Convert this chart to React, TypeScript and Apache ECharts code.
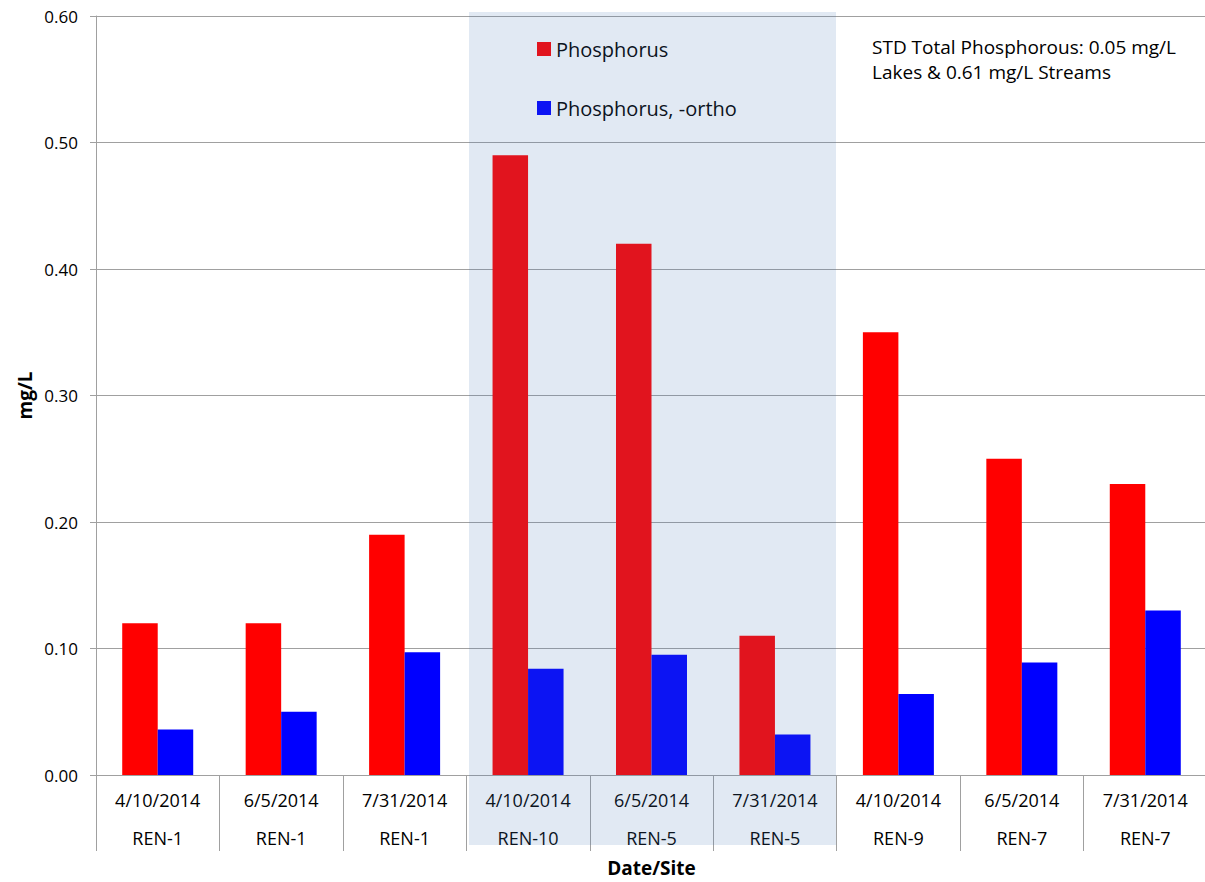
import React, { useEffect, useRef } from "react";
import * as echarts from "echarts";

const dates = ["4/10/2014", "6/5/2014", "7/31/2014", "4/10/2014", "6/5/2014", "7/31/2014", "4/10/2014", "6/5/2014", "7/31/2014"];
const sites = ["REN-1", "REN-1", "REN-1", "REN-10", "REN-5", "REN-5", "REN-9", "REN-7", "REN-7"];
const phosphorus = [0.12, 0.12, 0.19, 0.49, 0.42, 0.11, 0.35, 0.25, 0.23];
const orthoPhosphorus = [0.036, 0.05, 0.097, 0.084, 0.095, 0.032, 0.064, 0.089, 0.13];
const seriesNames = ["Phosphorus", "Phosphorus, -ortho"];
const noteLines = ["STD Total Phosphorous: 0.05 mg/L", "Lakes & 0.61 mg/L Streams"];

const FONT = "'Open Sans', sans-serif";
const GRID = "#a0a0a0";

export default function App() {
  const ref = useRef<HTMLDivElement>(null);
  useEffect(() => {
    if (!ref.current) return;
    const chart = echarts.init(ref.current, null, { renderer: "svg" });
    const categories = dates.map((d, i) => d + "\n" + sites[i]);
    chart.setOption({
      animation: false,
      backgroundColor: "#ffffff",
      textStyle: { fontFamily: FONT },
      grid: { left: 96, right: 3, top: 16, bottom: 107, containLabel: false, outerBoundsMode: "none" },
      legend: {
        orient: "vertical",
        left: 537,
        top: 39,
        padding: 0,
        itemWidth: 14,
        itemHeight: 14,
        itemGap: 39,
        icon: "rect",
        data: seriesNames,
        textStyle: { fontFamily: FONT, fontSize: 20, color: "#000", padding: [0, 0, 0, 0] },
      },
      xAxis: {
        type: "category",
        data: categories,
        name: "Date/Site",
        nameLocation: "middle",
        nameMoveOverlap: false,
        nameGap: 83,
        nameTextStyle: { fontFamily: FONT, fontSize: 19, lineHeight: 19, fontWeight: "bold", color: "#000" },
        axisLine: { lineStyle: { color: GRID, width: 1 } },
        axisTick: { show: true, interval: 0, length: 76, lineStyle: { color: GRID } },
        axisLabel: {
          interval: 0,
          margin: 6,
          lineHeight: 38,
          fontFamily: FONT,
          fontSize: 18,
          color: "#000",
        },
      },
      yAxis: {
        type: "value",
        min: 0,
        max: 0.6,
        interval: 0.1,
        name: "mg/L",
        nameLocation: "middle",
        nameMoveOverlap: false,
        nameRotate: 90,
        nameGap: 62,
        nameTextStyle: { fontFamily: FONT, fontSize: 19, fontWeight: "bold", color: "#000" },
        axisLine: { show: true, lineStyle: { color: GRID, width: 1 } },
        axisTick: { show: true, length: 6, lineStyle: { color: GRID } },
        splitLine: { show: true, lineStyle: { color: GRID, width: 1 } },
        axisLabel: {
          margin: 18,
          fontFamily: FONT,
          fontSize: 17,
          color: "#000",
          formatter: (v: number) => v.toFixed(2),
        },
      },
      series: [
        {
          name: seriesNames[0],
          type: "bar",
          data: phosphorus,
          barWidth: 35.5,
          barGap: "0%",
          itemStyle: { color: "#ff0000" },
        },
        {
          name: seriesNames[1],
          type: "bar",
          data: orthoPhosphorus,
          barWidth: 35.5,
          barGap: "0%",
          itemStyle: { color: "#0000ff" },
        },
      ],
      graphic: [
        {
          type: "text",
          left: 872,
          top: 34,
          z: 50,
          style: {
            text: noteLines.join("\n"),
            fontFamily: FONT,
            fontSize: 19,
            lineHeight: 25,
            fill: "#000",
          },
        },
        {
          type: "rect",
          left: 469,
          top: 12,
          z: 100,
          shape: { width: 367, height: 833 },
          style: { fill: "rgba(73,121,182,0.165)" },
          silent: true,
        },
      ],
    });
    return () => chart.dispose();
  }, []);
  return (
    <div
      ref={ref}
      style={{ position: "fixed", left: 0, top: 0, width: 1210, height: 882 }}
    />
  );
}
